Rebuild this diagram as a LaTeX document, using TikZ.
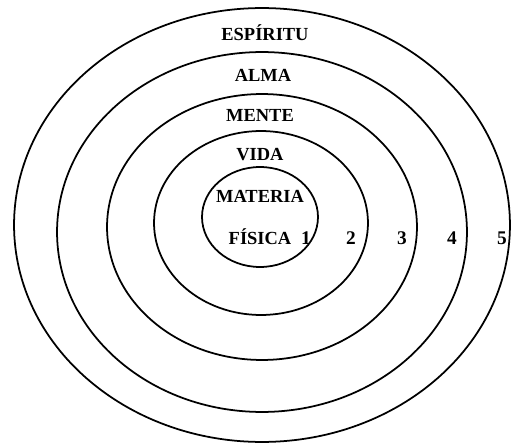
\documentclass[tikz,border=0pt]{standalone}
\usepackage{fontspec}
\setmainfont{Liberation Serif}
\usepackage{tikz}
\usetikzlibrary{positioning}

\begin{document}
\begin{tikzpicture}[
    x=0.02cm, y=-0.02cm,
    ring/.style={line width=1pt, black},
    plane/.style={font=\fontsize{10.5}{12}\selectfont\bfseries, inner sep=1pt},
    level/.style={font=\fontsize{11}{13}\selectfont\bfseries, inner sep=1pt}
]
    \useasboundingbox (0,0) rectangle (512,443);

    % Anillos (de fuera hacia dentro)
    \draw[ring] (262,225) ellipse [x radius=4.96cm, y radius=4.34cm];
    \draw[ring] (262,232) ellipse [x radius=4.10cm, y radius=3.60cm];
    \draw[ring] (262,227) ellipse [x radius=3.10cm, y radius=2.66cm];
    \draw[ring] (261,223) ellipse [x radius=2.14cm, y radius=1.84cm];
    \draw[ring] (260,217) ellipse [x radius=1.16cm, y radius=1.00cm];

    % Planos
    \node[plane] (espiritu) at (265,33) {ESPÍRITU};
    \node[plane] (alma) at (263,75) {ALMA};
    \node[plane] (mente) at (260,115) {MENTE};
    \node[plane] (vida) at (260,155) {VIDA};
    \node[plane] (materia) at (260,196) {MATERIA};
    \node[plane] (fisica) at (260,237) {FÍSICA};

    % Numeros
    \node[level] (n1) at (306,238) {1};
    \node[level] (n2) at (351,238) {2};
    \node[level] (n3) at (402,238) {3};
    \node[level] (n4) at (452,238) {4};
    \node[level] (n5) at (502,238) {5};
\end{tikzpicture}
\end{document}
